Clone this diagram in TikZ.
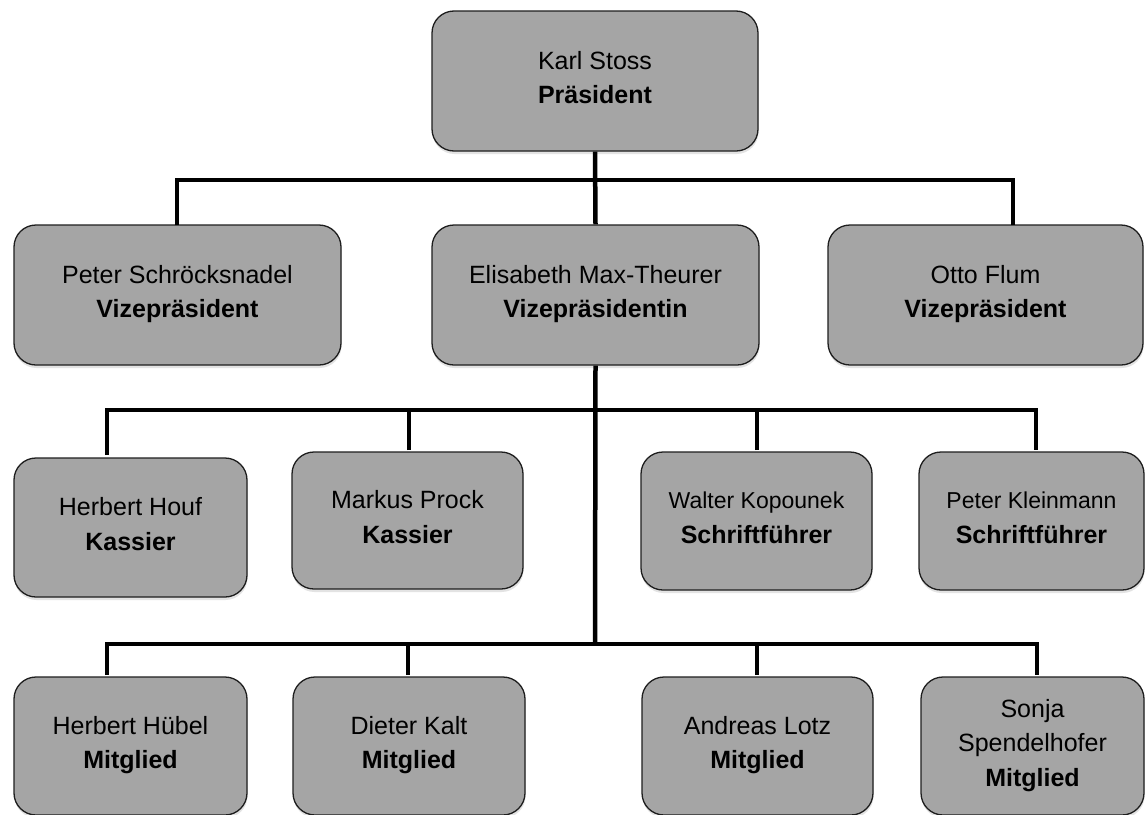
\documentclass[tikz,border=0pt]{standalone}
\usepackage{fontspec}
\setmainfont{Liberation Sans}
\usetikzlibrary{shadows}
\definecolor{boxfill}{RGB}{165,165,165}
\definecolor{boxline}{RGB}{30,30,30}
\newcommand\dstrut{\rule[-7pt]{0pt}{7pt}}
\begin{document}
\begin{tikzpicture}[x=1pt,y=-1pt,
  person/.style={draw=boxline, line width=1.3pt, fill=boxfill, rounded corners=22pt,
    inner sep=0pt, align=center, font=\fontsize{25}{34.5}\selectfont,
    drop shadow={shadow xshift=0.5pt, shadow yshift=-3pt, opacity=0.22}},
  conn/.style={line width=4.5pt, line join=miter, draw=black}]
\clip (0,0) rectangle (1145,814);
\fill[white] (0,0) rectangle (1145,814);

\coordinate (b1) at (595,180);
\coordinate (b2) at (595,410);
\coordinate (b3) at (595,644);
\coordinate (dp) at (177,225);
\coordinate (do) at (1013,225);
\coordinate (dhouf) at (107,455);
\coordinate (dmarkus) at (409,450);
\coordinate (dwalter) at (757,450);
\coordinate (dklein) at (1036,450);
\coordinate (dhuebel) at (107,675);
\coordinate (dkalt) at (408,675);
\coordinate (dlotz) at (757,675);
\coordinate (dsonja) at (1037,675);

\node[person, minimum width=326pt, minimum height=140pt] (karl) at (595,81) {Karl Stoss\\\textbf{Präsident}\dstrut};

\node[person, minimum width=327pt, minimum height=140pt] (peter) at (177.5,295) {Peter Schröcksnadel\\\textbf{Vizepräsident}\dstrut};
\node[person, minimum width=327pt, minimum height=140pt] (elis) at (595.5,295) {Elisabeth Max-Theurer\\\textbf{Vizepräsidentin}\dstrut};
\node[person, minimum width=315pt, minimum height=140pt] (otto) at (985.5,295) {Otto Flum\\\textbf{Vizepräsident}\dstrut};

\draw[conn] (karl.south) -- (elis.north);
\draw[conn] (dp) |- (b1) -| (do);
\draw[conn] (elis.south) -- (b3);
\draw[conn] (dhouf) |- (b2) -| (dklein);
\draw[conn] (dmarkus) -- (dmarkus |- b2);
\draw[conn] (dwalter) -- (dwalter |- b2);
\draw[conn] (dhuebel) |- (b3) -| (dsonja);
\draw[conn] (dkalt) -- (dkalt |- b3);
\draw[conn] (dlotz) -- (dlotz |- b3);

\node[person, minimum width=233pt, minimum height=139pt] (houf) at (130.5,527.5) {Herbert Houf\\\textbf{Kassier}\dstrut};
\node[person, minimum width=231pt, minimum height=137pt] (markus) at (407.5,520.5) {Markus Prock\\\textbf{Kassier}\dstrut};
\node[person, minimum width=231pt, minimum height=138pt] (walter) at (756.5,521) {{\fontsize{23}{34.5}\selectfont Walter Kopounek}\\\textbf{Schriftführer}\dstrut};
\node[person, minimum width=225pt, minimum height=138pt] (klein) at (1031.5,521) {{\fontsize{23}{34.5}\selectfont Peter Kleinmann}\\\textbf{Schriftführer}\dstrut};

\node[person, minimum width=233pt, minimum height=138pt] (huebel) at (130.5,746) {Herbert Hübel\\\textbf{Mitglied}\dstrut};
\node[person, minimum width=232pt, minimum height=138pt] (kalt) at (409,746) {Dieter Kalt\\\textbf{Mitglied}\dstrut};
\node[person, minimum width=231pt, minimum height=138pt] (lotz) at (757.5,746) {Andreas Lotz\\\textbf{Mitglied}\dstrut};
\node[person, minimum width=223pt, minimum height=138pt] (sonja) at (1032.5,746) {Sonja\\Spendelhofer\\\textbf{Mitglied}\dstrut};
\end{tikzpicture}
\end{document}
